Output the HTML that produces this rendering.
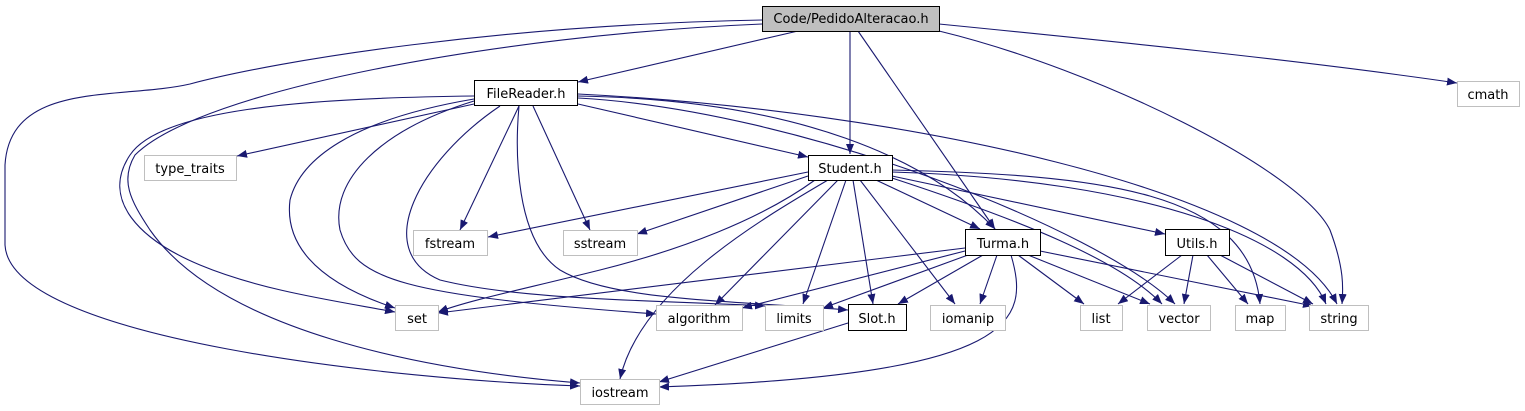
<!DOCTYPE html>
<html><head><meta charset="utf-8"><style>
html,body{margin:0;padding:0;background:#fff;}
svg{display:block;}
text{font-family:"DejaVu Sans","Liberation Sans",sans-serif;font-size:13px;fill:#000;}
.e{fill:none;stroke:#191970;stroke-width:1.1;marker-end:url(#a);}
.g{fill:#fff;stroke:#bfbfbf;stroke-width:1;}
.b{fill:#fff;stroke:#000;stroke-width:1;}
</style></head><body>
<svg width="1525" height="411" viewBox="0 0 1525 411" xmlns="http://www.w3.org/2000/svg">
<defs><marker id="a" markerWidth="10" markerHeight="8" refX="10" refY="4" orient="auto" markerUnits="userSpaceOnUse"><path d="M0,0 L10,4 L0,8 z" fill="#191970"/></marker></defs>
<path class="e" d="M798,31 L578,82"/>
<path class="e" d="M850,31 L850,154"/>
<path class="e" d="M858,31 L995,229"/>
<path class="e" d="M939,24 C1100,40 1300,60 1457,83"/>
<path class="e" d="M939,31 C1100,70 1300,170 1330,230 C1345,270 1343,290 1342,304"/>
<path class="e" d="M762,20 C500,25 280,60 190,84 C120,100 10,80 5,165 L5,245 C10,340 400,380 580,386"/>
<path class="e" d="M762,24 C500,35 200,90 135,155 C120,180 130,200 150,230 C220,330 420,370 580,383"/>
<path class="e" d="M474,96 C300,98 160,110 130,155 C100,200 140,240 200,265 C260,290 330,300 395,312"/>
<path class="e" d="M474,104 L237,156"/>
<path class="e" d="M474,99 C350,120 300,160 290,200 C285,240 310,280 395,308"/>
<path class="e" d="M474,101 C380,130 330,180 340,230 C355,280 400,295 656,314"/>
<path class="e" d="M500,106 C420,160 370,250 440,280 C520,300 650,300 765,306"/>
<path class="e" d="M519,106 L460,230"/>
<path class="e" d="M533,106 L590,230"/>
<path class="e" d="M519,106 C515,150 515,240 560,270 C610,300 720,300 848,310"/>
<path class="e" d="M578,104 L808,157"/>
<path class="e" d="M578,96 C800,100 930,160 995,229"/>
<path class="e" d="M578,98 C800,110 1100,230 1175,304"/>
<path class="e" d="M578,94 C900,110 1280,190 1337,304"/>
<path class="e" d="M808,172 L488,237"/>
<path class="e" d="M808,176 L637,234"/>
<path class="e" d="M815,180 C760,220 680,250 600,270 C520,290 470,300 438,312"/>
<path class="e" d="M828,180 C760,220 640,290 620,379"/>
<path class="e" d="M838,180 L715,305"/>
<path class="e" d="M846,180 L803,304"/>
<path class="e" d="M853,180 L873,304"/>
<path class="e" d="M860,180 L955,304"/>
<path class="e" d="M876,180 L980,229"/>
<path class="e" d="M892,176 L1165,234"/>
<path class="e" d="M892,178 C1020,220 1120,260 1162,304"/>
<path class="e" d="M892,170 C1100,175 1250,190 1260,304"/>
<path class="e" d="M892,172 C1150,180 1300,240 1326,304"/>
<path class="e" d="M965,248 L438,313"/>
<path class="e" d="M965,251 L742,308"/>
<path class="e" d="M968,255 L823,308"/>
<path class="e" d="M983,255 L898,304"/>
<path class="e" d="M997,255 L980,304"/>
<path class="e" d="M1018,255 L1084,304"/>
<path class="e" d="M1028,255 L1150,304"/>
<path class="e" d="M1040,251 L1313,306"/>
<path class="e" d="M1011,255 C1030,320 1020,375 659,387"/>
<path class="e" d="M1182,255 L1118,304"/>
<path class="e" d="M1193,255 L1184,304"/>
<path class="e" d="M1207,255 L1248,304"/>
<path class="e" d="M1220,255 L1313,304"/>
<path class="e" d="M848,323 L659,382"/>
<rect x="762.5" y="6.5" width="177" height="25" fill="#bfbfbf" stroke="#000"/><text x="851" y="23" text-anchor="middle">Code/PedidoAlteracao.h</text>
<rect class="b" x="474.5" y="80.5" width="103" height="25"/><text x="526" y="98" text-anchor="middle">FileReader.h</text>
<rect class="g" x="1457.5" y="81.5" width="62" height="25"/><text x="1488" y="99" text-anchor="middle">cmath</text>
<rect class="g" x="144.5" y="155.5" width="92" height="25"/><text x="190" y="173" text-anchor="middle">type_traits</text>
<rect class="b" x="808.5" y="155.5" width="84" height="25"/><text x="850" y="173" text-anchor="middle">Student.h</text>
<rect class="g" x="413.5" y="230.5" width="74" height="25"/><text x="450" y="248" text-anchor="middle">fstream</text>
<rect class="g" x="563.5" y="230.5" width="74" height="25"/><text x="600" y="248" text-anchor="middle">sstream</text>
<rect class="b" x="965.5" y="229.5" width="75" height="26"/><text x="1003" y="248" text-anchor="middle">Turma.h</text>
<rect class="b" x="1165.5" y="229.5" width="64" height="26"/><text x="1197" y="248" text-anchor="middle">Utils.h</text>
<rect class="g" x="395.5" y="305.5" width="43" height="25"/><text x="417" y="323" text-anchor="middle">set</text>
<rect class="g" x="656.5" y="305.5" width="86" height="25"/><text x="699" y="323" text-anchor="middle">algorithm</text>
<rect class="g" x="765.5" y="305.5" width="58" height="25"/><text x="794" y="323" text-anchor="middle">limits</text>
<rect class="b" x="848.5" y="304.5" width="58" height="26"/><text x="877" y="323" text-anchor="middle">Slot.h</text>
<rect class="g" x="930.5" y="305.5" width="75" height="25"/><text x="968" y="323" text-anchor="middle">iomanip</text>
<rect class="g" x="1080.5" y="305.5" width="42" height="25"/><text x="1101" y="323" text-anchor="middle">list</text>
<rect class="g" x="1147.5" y="305.5" width="63" height="25"/><text x="1179" y="323" text-anchor="middle">vector</text>
<rect class="g" x="1235.5" y="305.5" width="50" height="25"/><text x="1260" y="323" text-anchor="middle">map</text>
<rect class="g" x="1309.5" y="305.5" width="59" height="25"/><text x="1339" y="323" text-anchor="middle">string</text>
<rect class="g" x="580.5" y="379.5" width="79" height="25"/><text x="620" y="397" text-anchor="middle">iostream</text>
</svg>
</body></html>
